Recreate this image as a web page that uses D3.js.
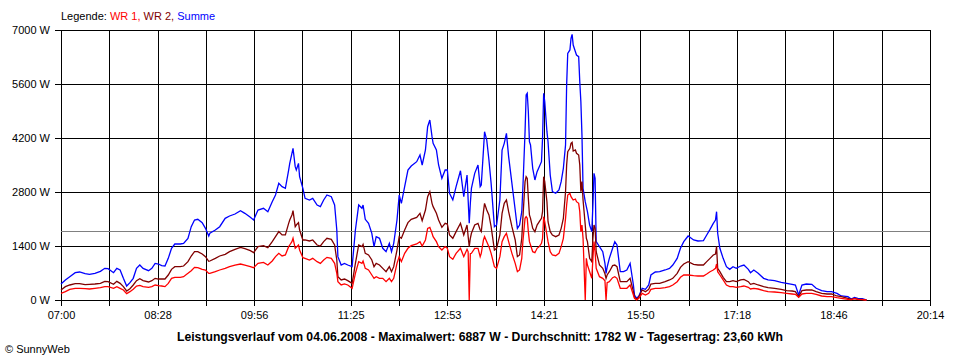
<!DOCTYPE html>
<html><head><meta charset="utf-8">
<script src="https://cdn.jsdelivr.net/npm/d3@7"></script>
<style>
body{margin:0;background:#fff}
svg{display:block}
text{font-family:"Liberation Sans",Arial,sans-serif}
</style>
</head><body>
<svg id="c" width="960" height="360"></svg>
<script>
// ---- data ----
const times = [
"07:00","07:04","07:08","07:13","07:17","07:22","07:26","07:31","07:36","07:40","07:43","07:48","07:51","07:54","07:57",
"08:00","08:03","08:06","08:09","08:12","08:15","08:20","08:23","08:26","08:29","08:32","08:35","08:38","08:41","08:44","08:49","08:52","08:56","08:59",
"09:02","09:05","09:09","09:12","09:15",
"09:16","09:21","09:25","09:30","09:34","09:39","09:44","09:48","09:53","09:56",
"10:00","10:05","10:09","10:13","10:16","10:19","10:22","10:25","10:28","10:29","10:31","10:32","10:34","10:35","10:37","10:38","10:41","10:43","10:47","10:50","10:54","10:57",
"11:00","11:03","11:07","11:10","11:12","11:13","11:16","11:19","11:22","11:26","11:29","11:32","11:35","11:36",
"11:38","11:41","11:44","11:46","11:48","11:51","11:54","11:57",
"12:00","12:02","12:04","12:07","12:09","12:11","12:14","12:17","12:20","12:25","12:28","12:30","12:33","12:35","12:37","12:39","12:40","12:43","12:45","12:48","12:51","12:53","12:55","12:58",
"13:01","13:05","13:08","13:11","13:12","13:13","13:14","13:15","13:18","13:21","13:23","13:24","13:26","13:27","13:29","13:31","13:33","13:36","13:38","13:41","13:43","13:45","13:47","13:49","13:52","13:55","13:57",
"13:59","14:01","14:02","14:04","14:05","14:06","14:07","14:08","14:09","14:11","14:13","14:15","14:17","14:19","14:20","14:21","14:22","14:24","14:25","14:27","14:29","14:32","14:35","14:37","14:39","14:41","14:42","14:43","14:45","14:46","14:47","14:48","14:50","14:51","14:53","14:54","14:55","14:56","14:57","14:59",
"15:00","15:01","15:03","15:05","15:06","15:07","15:08","15:09","15:12","15:15","15:17","15:18","15:19","15:21","15:24","15:26","15:28","15:31","15:34","15:37","15:40","15:43",
"15:44","15:46","15:48","15:51","15:54","15:57","15:59",
"16:03","16:07","16:12","16:16","16:19","16:23","16:26","16:29","16:33","16:38","16:42","16:47","16:50","16:53","16:56","16:58","16:59",
"17:00","17:02","17:05","17:08","17:11","17:14","17:17","17:21","17:24","17:28","17:30","17:33","17:37","17:42","17:46","17:52","17:58",
"18:03","18:08","18:11","18:14","18:17","18:21","18:26","18:30","18:35","18:40","18:44","18:49","18:53","18:59",
"19:02","19:05","19:08","19:12","19:15","19:16"
];
const wr1 = [
173,216,277,303,303,294,285,303,320,346,346,303,346,303,259,164,216,277,363,380,346,328,346,389,372,363,346,432,562,588,588,605,691,760,847,838,795,778,691,
691,734,778,821,864,907,933,907,864,838,950,976,907,1011,1124,1210,1141,1167,1383,1426,1513,1599,1340,1366,1426,1296,1098,1080,1037,1080,994,950,1037,1106,1080,950,691,475,389,415,389,303,691,994,950,1011,
821,778,648,562,605,562,562,475,562,475,562,950,1124,994,1210,1340,1409,1452,1513,1400,1556,1858,1884,1729,1642,1513,1383,1296,1383,1340,1124,1055,1210,1340,1124,1314,1250,0,1200,1210,1340,1340,1124,1210,1556,1642,1513,1383,1210,864,821,1124,1513,1642,1729,1513,1210,950,734,
778,1080,1513,2117,2160,2117,1772,1513,1426,1253,1227,1340,1383,1469,1599,2160,2030,1685,1513,1253,1167,1149,1210,1383,1599,2117,2463,2722,2766,2679,2636,2593,2618,2549,2506,2290,1772,1944,1599,0,1080,907,734,562,1080,1513,1253,821,605,562,500,0,450,475,579,605,562,303,303,303,389,130,
43,0,43,173,130,173,277,303,303,320,346,389,475,588,648,648,631,622,622,674,734,778,821,933,734,648,519,389,346,346,328,346,363,328,285,303,285,242,216,207,190,173,156,147,69,156,173,173,147,104,86,86,60,43,17,9,34,17,8,0,0
];
const wr2 = [
259,346,389,424,424,398,406,415,432,484,476,406,484,432,346,233,294,389,501,553,501,467,501,562,544,544,544,648,795,864,864,881,994,1141,1253,1253,1193,1124,1002,
1011,1080,1141,1184,1253,1314,1366,1331,1279,1227,1383,1409,1357,1513,1642,1772,1686,1686,1988,2074,2204,2316,1901,1944,2005,1815,1556,1556,1530,1556,1426,1400,1513,1599,1573,1426,1037,605,519,544,501,432,950,1426,1383,1443,
1210,1167,1037,864,950,907,821,734,864,734,864,1296,1642,1599,1815,2005,2091,2143,2247,2057,2333,2679,2808,2506,2420,2247,2074,1884,1988,1970,1685,1599,1772,1988,1685,1944,1650,1383,1600,1729,1944,1988,1815,1772,2290,2506,2333,2204,1901,1296,1340,1685,2247,2506,2593,2290,1901,1556,1124,
1167,1599,2117,3068,3197,3154,2636,2204,2117,1858,1772,1944,2030,2117,2290,3197,3068,2549,2030,1772,1685,1642,1685,1858,2117,2808,3500,3845,3933,4061,4087,3863,3889,3803,3759,3500,2808,3068,2593,1944,1599,1513,1080,994,1599,1944,1858,1253,907,821,680,562,650,734,890,907,864,475,475,475,562,216,
69,17,86,259,216,277,415,432,432,475,519,562,691,847,933,994,924,907,907,994,1080,1167,1193,1383,821,734,588,475,475,501,475,519,536,475,406,432,389,346,320,303,277,242,233,216,86,242,259,259,216,173,156,156,104,86,43,17,43,17,17,0,0
];
const summe = [
415,518,604,708,726,682,665,691,743,821,812,708,821,778,562,363,449,562,821,907,821,760,821,950,933,890,881,1080,1340,1452,1452,1469,1599,1901,2074,2092,2005,1858,1659,
1729,1815,1901,2117,2178,2230,2316,2247,2143,2074,2333,2377,2290,2549,2722,3025,2938,2895,3370,3543,3803,3933,3456,3370,3543,3197,2895,2636,2593,2636,2463,2420,2593,2722,2679,2463,1815,1124,907,950,907,864,1815,2463,2377,2463,
2091,1988,1729,1383,1642,1599,1340,1253,1469,1253,1469,2074,2722,2506,2938,3370,3474,3586,3759,3500,3889,4493,4667,4234,4061,3889,3500,3154,3370,3370,2766,2593,2938,3352,2679,3241,2600,1988,2500,2895,3284,3500,2938,2981,3889,4364,4148,3630,3025,1901,1944,2593,3889,4061,4320,3716,3025,2333,1858,
1944,2290,2895,4364,5315,5358,4882,4104,4019,3414,3111,3327,3456,3586,4191,5358,5142,4364,4104,3241,2808,2766,2852,3068,3414,4019,5574,6395,6482,6784,6887,6611,6438,6352,6308,5660,5142,4278,2895,2549,2420,2290,1944,1772,2463,3284,3154,1513,1383,1253,950,691,850,1080,1340,1513,1426,734,734,778,950,389,
130,43,104,303,277,389,648,726,734,778,821,907,1080,1340,1513,1659,1556,1530,1538,1685,1832,1988,2074,2290,1729,1340,1080,864,795,864,821,881,907,795,708,778,691,562,519,501,458,432,406,389,130,389,415,406,303,242,216,216,173,104,86,26,69,43,34,8,0
];
const yTicks = [0, 1400, 2800, 4200, 5600, 7000];
const xTickLabels = ["07:00","08:28","09:56","11:25","12:53","14:21","15:50","17:18","18:46","20:14"];
const average = 1782;
const legendLabels = ["WR 1", "WR 2", "Summe"];
const legendTitle = "Legende: ";
const titleText = "Leistungsverlauf vom 04.06.2008 - Maximalwert: 6887 W - Durchschnitt: 1782 W - Tagesertrag: 23,60 kWh";
const creditText = "\u00A9 SunnyWeb";

// ---- drawing ----
const svg = d3.select("#c");
const parse = d3.timeParse("%H:%M");
const L = 61, R = 930, T = 30, B = 300;
const tStart = parse(xTickLabels[0]), tEnd = parse(xTickLabels[xTickLabels.length - 1]);
const x = d3.scaleTime().domain([tStart, tEnd]).range([L, R]);
const y = d3.scaleLinear().domain([0, 7000]).range([B, T]);

const nGrid = (xTickLabels.length - 1) * 2;
const gridTimes = d3.range(nGrid + 1).map(i => new Date(+tStart + i * (tEnd - tStart) / nGrid));

// vertical grid + x labels
const gx = svg.append("g").attr("transform", `translate(0,${B + 6})`)
  .call(d3.axisBottom(x).tickValues(gridTimes)
    .tickFormat((d, i) => i % 2 === 0 ? xTickLabels[i / 2] : "")
    .tickSizeInner(-(B + 6 - T)).tickSizeOuter(0).tickPadding(5));
gx.select(".domain").remove();
gx.selectAll("line").attr("stroke", "#000").attr("shape-rendering", "crispEdges");
gx.selectAll("text").attr("font-size", 11).attr("fill", "#000").attr("font-family", "'Liberation Sans',Arial,sans-serif");

// horizontal grid + y labels
const gy = svg.append("g").attr("transform", `translate(${L - 6},0)`)
  .call(d3.axisLeft(y).tickValues(yTicks).tickFormat(d => d + " W")
    .tickSizeInner(-(R - L + 6)).tickSizeOuter(0).tickPadding(5));
gy.select(".domain").remove();
gy.selectAll("line").attr("stroke", "#000").attr("shape-rendering", "crispEdges");
gy.selectAll("text").attr("font-size", 11).attr("fill", "#000").attr("font-family", "'Liberation Sans',Arial,sans-serif");

// average line
svg.append("line").attr("x1", L).attr("x2", R)
  .attr("y1", Math.round(y(average)) + 0.5).attr("y2", Math.round(y(average)) + 0.5)
  .attr("stroke", "#808080").attr("stroke-width", 1).attr("shape-rendering", "crispEdges");

// series
const tParsed = times.map(parse);
const series = [
  { values: summe, color: "#0000ff" },
  { values: wr2, color: "#800000" },
  { values: wr1, color: "#ff0000" }
];
const line = d3.line().x(d => x(d.t)).y(d => y(d.v));
series.forEach(s => {
  const pts = tParsed.map((t, i) => ({ t, v: s.values[i] }));
  svg.append("path").datum(pts).attr("d", line)
    .attr("fill", "none").attr("stroke", s.color).attr("stroke-width", 1.3)
    .attr("stroke-linejoin", "miter");
});

// legend
const legColors = ["#ff0000", "#800000", "#0000ff"];
const lg = svg.append("text").attr("x", 61).attr("y", 20).attr("font-size", 11);
lg.append("tspan").attr("fill", "#000").text(legendTitle);
legendLabels.forEach((lab, i) => {
  lg.append("tspan").attr("fill", legColors[i]).text(lab + (i < legendLabels.length - 1 ? ", " : ""));
});

// title and credit
svg.append("text").attr("x", 480).attr("y", 341).attr("text-anchor", "middle")
  .attr("font-size", 12.2).attr("font-weight", "bold").attr("fill", "#000").text(titleText);
svg.append("text").attr("x", 5).attr("y", 353).attr("font-size", 11).attr("fill", "#000").text(creditText);
</script>
</body></html>
